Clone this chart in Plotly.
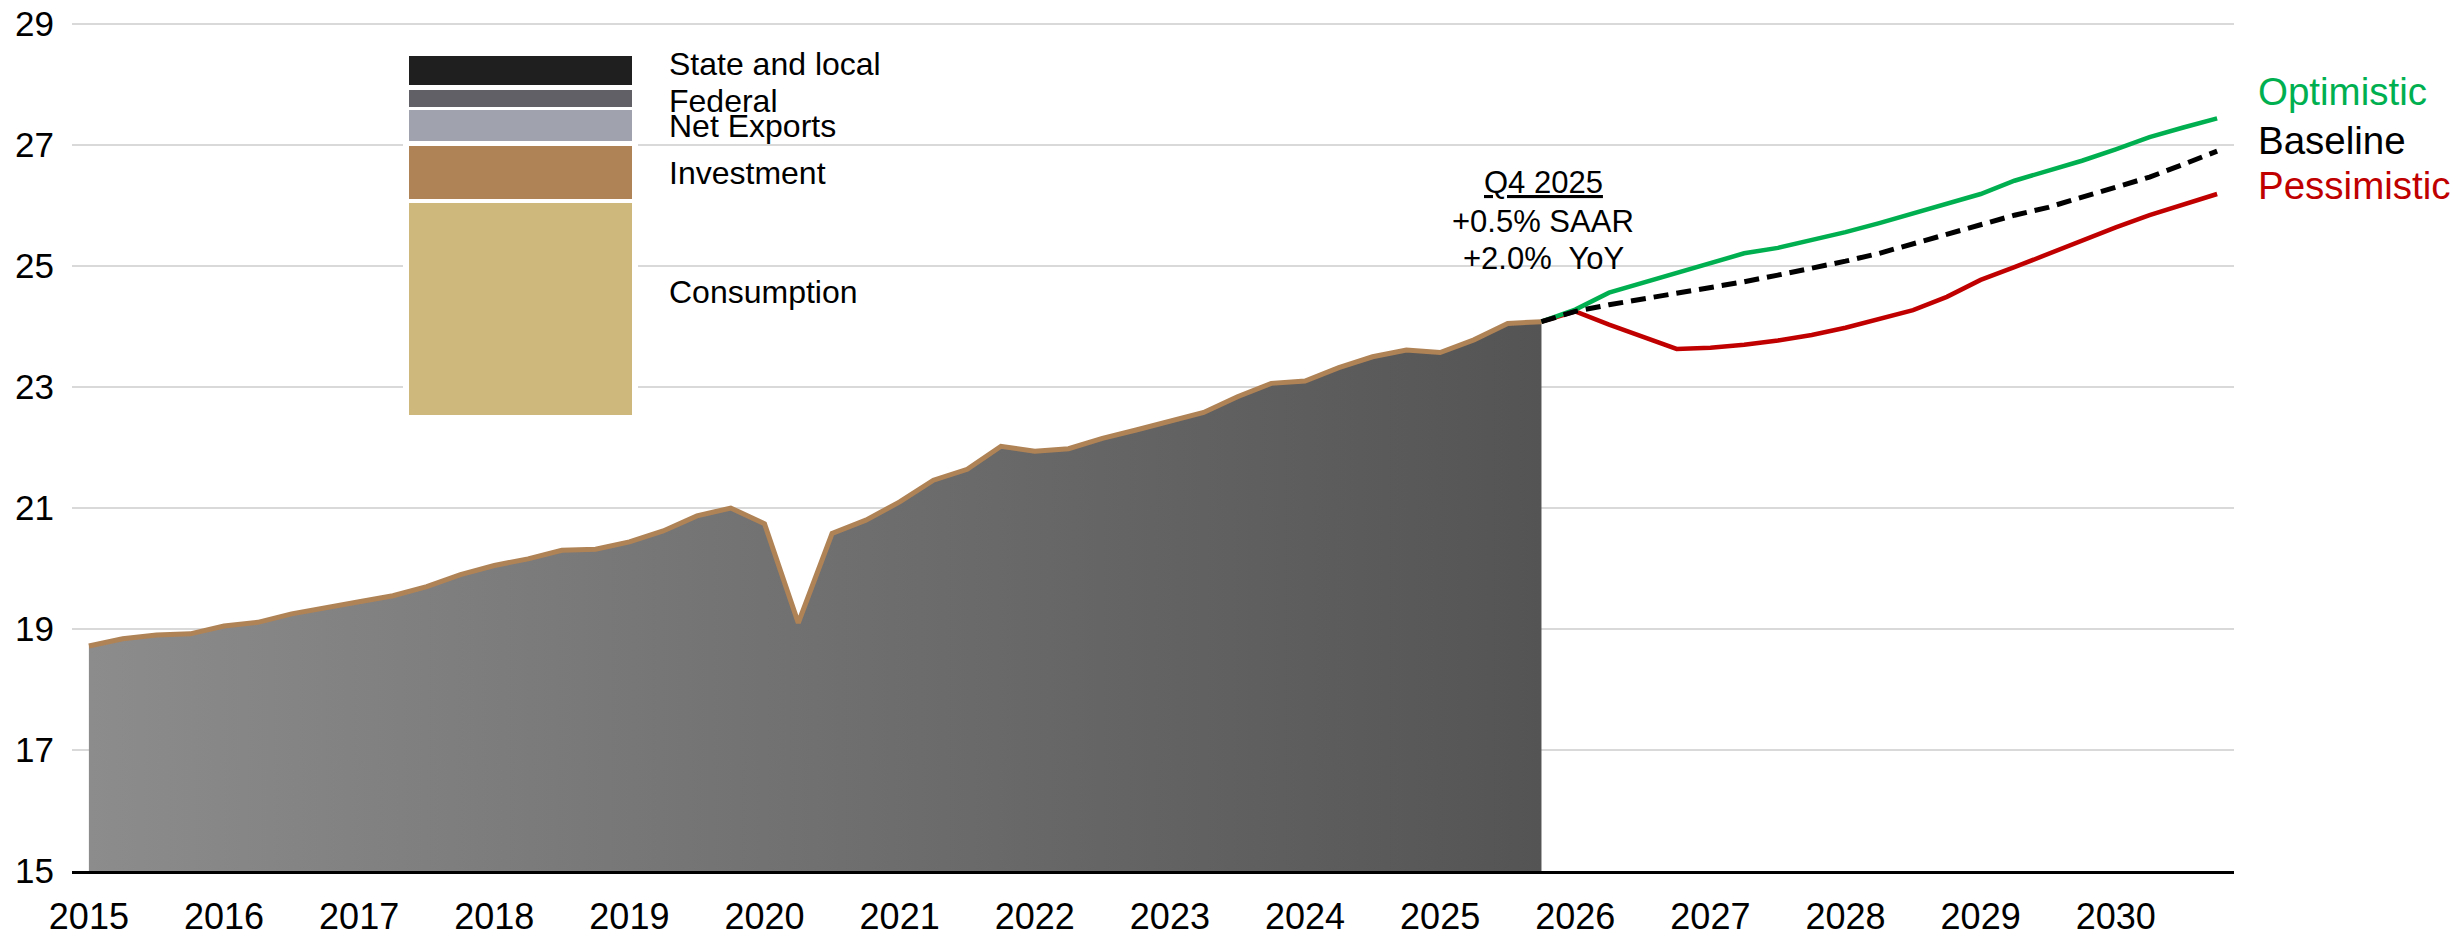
import plotly.graph_objects as go

# ---------------- data ----------------
hist_quarters = [f"{y}Q{q}" for y in range(2015, 2026) for q in range(1, 5)]
real_gdp_hist = [
    18.72, 18.84, 18.90, 18.92, 19.05, 19.11, 19.25, 19.36,
    19.45, 19.55, 19.70, 19.90, 20.05, 20.16, 20.30, 20.32,
    20.44, 20.62, 20.87, 21.00, 20.74, 19.10, 20.58, 20.80,
    21.10, 21.46, 21.64, 22.02, 21.94, 21.98, 22.15, 22.29,
    22.43, 22.58, 22.84, 23.06, 23.10, 23.32, 23.50, 23.61,
    23.57, 23.78, 24.05, 24.08,
]
proj_quarters = ["2025Q4"] + [f"{y}Q{q}" for y in range(2026, 2031) for q in range(1, 5)]
optimistic = [24.08, 24.28, 24.56, 24.72, 24.89, 25.05, 25.21, 25.30, 25.43, 25.56, 25.71,
              25.87, 26.02, 26.19, 26.41, 26.58, 26.74, 26.93, 27.13, 27.29, 27.44]
baseline = [24.08, 24.25, 24.36, 24.45, 24.56, 24.65, 24.74, 24.85, 24.96, 25.08, 25.21,
            25.37, 25.52, 25.67, 25.84, 25.97, 26.13, 26.30, 26.47, 26.68, 26.90]
pessimistic = [24.08, 24.25, 24.03, 23.83, 23.63, 23.65, 23.70, 23.77, 23.86, 23.98, 24.12,
               24.27, 24.49, 24.77, 24.98, 25.20, 25.42, 25.64, 25.84, 26.02, 26.19]
year_ticks = list(range(2015, 2031))
y_ticks = [15, 17, 19, 21, 23, 25, 27, 29]
legend_items = ["State and local", "Federal", "Net Exports", "Investment", "Consumption"]
scenario_names = ["Optimistic", "Baseline", "Pessimistic"]
annotation_lines = ["<u>Q4 2025</u>", "+0.5% SAAR", "+2.0%\u00a0 YoY"]


def qpos(label):
    y, q = label.split("Q")
    return int(y) + (int(q) - 1) / 4


# ---------------- layout constants ----------------
OFF = 0  # body margin removed by post_script below
W, H = 2458 - OFF, 936 - OFF
L, R, T, B = 72 - OFF, 224, 21 - OFF, 65
PW, PH = W - L - R, H - T - B
FONT = "Liberation Sans, Arial, sans-serif"
GREEN, RED, BROWN = "#00b050", "#c00000", "#b08356"


def px_x(p):  # page pixel -> paper x
    return (p - OFF - L) / PW


def px_y(p):  # page pixel -> paper y
    return (H - B - (p - OFF)) / PH


fig = go.Figure()

hx = [qpos(q) for q in hist_quarters]
fig.add_trace(go.Scatter(
    x=hx, y=real_gdp_hist, mode="lines", fill="tozeroy",
    line=dict(color=BROWN, width=5),
    fillgradient=dict(type="horizontal",
                      colorscale=[[0, "#8c8c8c"], [1, "#545454"]]),
    hoverinfo="skip", showlegend=False,
))

px_ = [qpos(q) for q in proj_quarters]
fig.add_trace(go.Scatter(x=px_, y=pessimistic, mode="lines",
                         line=dict(color=RED, width=4.5), showlegend=False))
fig.add_trace(go.Scatter(x=px_, y=optimistic, mode="lines",
                         line=dict(color=GREEN, width=4.5), showlegend=False))
fig.add_trace(go.Scatter(x=px_, y=baseline, mode="lines",
                         line=dict(color="black", width=5, dash="15px,8px"),
                         showlegend=False))

# --------- stacked-bar style legend (decoration) ---------
shapes = []
shapes.append(dict(type="rect", xref="paper", yref="paper", layer="above",
                   x0=px_x(403), x1=px_x(638), y0=px_y(424), y1=px_y(50),
                   fillcolor="white", line=dict(width=0)))
legend_boxes = [  # (top, bottom) in page px, colour
    (56, 85, "#1f1f1f"),
    (90, 107, "#616066"),
    (110, 141, "#a0a2ad"),
    (146, 199, "#b08356"),
    (203, 415, "#cfb87c"),
]
for (t, b, c) in legend_boxes:
    shapes.append(dict(type="rect", xref="paper", yref="paper", layer="above",
                       x0=px_x(409), x1=px_x(632), y0=px_y(b), y1=px_y(t),
                       fillcolor=c, line=dict(width=0)))

annotations = []
legend_label_y = [64, 101, 126, 173, 292]
for name, yy in zip(legend_items, legend_label_y):
    annotations.append(dict(text=name, xref="paper", yref="paper",
                            x=px_x(667), y=px_y(yy), xanchor="left", yanchor="middle",
                            showarrow=False, font=dict(family=FONT, size=32, color="black")))

scen_colors = [GREEN, "black", RED]
scen_y = [91, 140, 185]
for name, col, yy in zip(scenario_names, scen_colors, scen_y):
    annotations.append(dict(text=name, xref="paper", yref="paper",
                            x=px_x(2256), y=px_y(yy), xanchor="left", yanchor="middle",
                            showarrow=False, font=dict(family=FONT, size=38.5, color=col)))

ann_y = [183, 221, 258]
for txt, yy in zip(annotation_lines, ann_y):
    annotations.append(dict(text=txt, xref="paper", yref="paper",
                            x=px_x(1543), y=px_y(yy), xanchor="center", yanchor="middle",
                            showarrow=False, font=dict(family=FONT, size=31, color="black")))

fig.update_layout(
    template="none",
    width=W, height=H,
    margin=dict(l=L, r=R, t=T, b=B, pad=0, autoexpand=False),
    paper_bgcolor="white", plot_bgcolor="white",
    shapes=shapes, annotations=annotations,
    showlegend=False,
    font=dict(family=FONT, size=35, color="black"),
)
fig.update_xaxes(
    automargin=False,
    range=[2014.875, 2030.875], tickmode="array",
    tickvals=year_ticks, ticktext=[str(y) for y in year_ticks],
    showgrid=False, zeroline=False, showline=True, linecolor="black", linewidth=2.5,
    ticks="", tickfont=dict(family=FONT, size=36, color="black"),
    ticklabelstandoff=12, ticklabeloverflow="allow",
)
fig.update_yaxes(
    automargin=False,
    range=[15, 29.05], tickmode="array", tickvals=y_ticks,
    ticktext=[str(v) for v in y_ticks],
    showgrid=True, gridcolor="#d9d9d9", gridwidth=2, zeroline=False, showline=False,
    ticks="", tickfont=dict(family=FONT, size=35, color="black"),
    ticklabelstandoff=17, ticklabeloverflow="allow",
)

fig.write_html(
    "out.html",
    config={"displayModeBar": False},
    post_script="document.body.style.margin='0px';document.body.style.overflow='hidden';",
)
